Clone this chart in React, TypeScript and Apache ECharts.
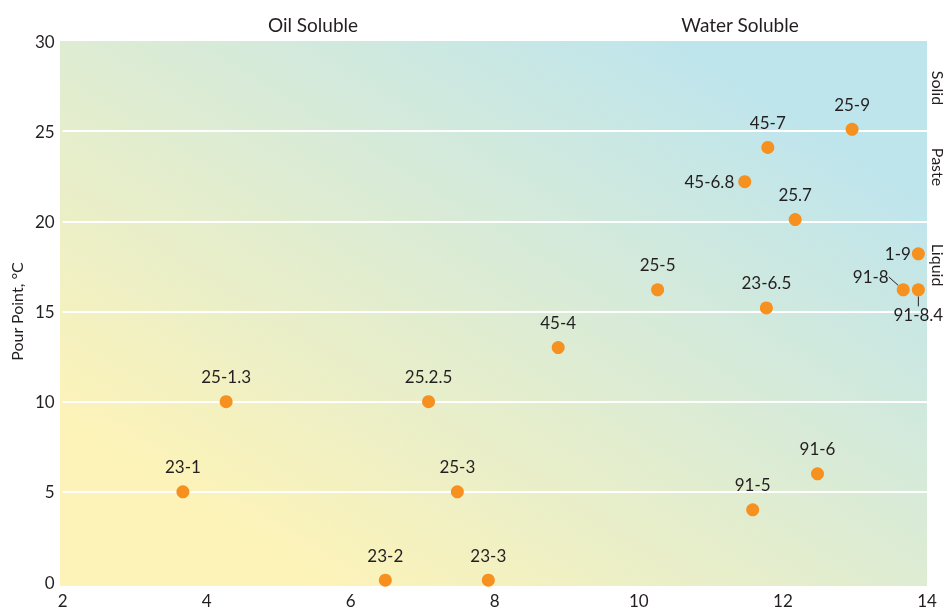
import React, { useEffect, useRef } from "react";
import * as echarts from "echarts";

const names = ["23-1", "25-1.3", "23-2", "23-3", "25.2.5", "25-3", "45-4", "25-5", "91-5", "91-6", "23-6.5", "45-6.8", "45-7", "25-9", "25.7", "1-9", "91-8", "91-8.4"];
const hlb = [3.67, 4.27, 6.48, 7.91, 7.08, 7.48, 8.88, 10.26, 11.58, 12.48, 11.77, 11.47, 11.79, 12.96, 12.17, 13.88, 13.67, 13.88];
const pourPoint = [5, 10, 0.1, 0.1, 10, 5, 13, 16.2, 4, 6, 15.2, 22.2, 24.1, 25.1, 20.1, 18.2, 16.2, 16.2];
const xTicks = [2, 4, 6, 8, 10, 12, 14];
const gridValues = [5, 10, 15, 20, 25];
const zoneLabels = ["Solid", "Paste", "Liquid"];
const topLabels = ["Oil Soluble", "Water Soluble"];

const FONT = "Lato, 'Noto Sans', sans-serif";
const TXT = "#231f20";

export default function App() {
  const ref = useRef<HTMLDivElement>(null);
  useEffect(() => {
    const chart = echarts.init(ref.current!, null, { renderer: "svg" });
    const labelCfg: Record<string, any> = {
      "45-6.8": { position: "left", distance: 4, offset: [0, -9] },
      "1-9": { position: "left", distance: 1, offset: [0, -12] },
      "91-8": { position: "left", distance: 4 },
      "91-8.4": { position: "bottom", distance: 2 },
    };
    const data = names.map((n, i) => {
      const item: any = { name: n, value: [hlb[i], pourPoint[i]] };
      if (labelCfg[n]) item.label = labelCfg[n];
      if (n === "91-8" || n === "91-8.4") item.labelLine = { show: true };
      return item;
    });
    chart.setOption({
      animation: false,
      grid: { left: 60, right: 19, top: 41, bottom: 30 },
      xAxis: {
        type: "value",
        min: xTicks[0],
        max: xTicks[xTicks.length - 1],
        interval: 2,
        axisLine: { show: false },
        axisTick: { show: false },
        splitLine: { show: false },
        axisLabel: { color: TXT, fontSize: 17, fontFamily: FONT, margin: 10 },
      },
      yAxis: {
        type: "value",
        min: 0,
        max: 30,
        interval: 5,
        name: "Pour Point, °C",
        nameLocation: "middle",
        nameGap: 34,
        nameTextStyle: { color: TXT, fontSize: 16, fontFamily: FONT },
        axisLine: { show: false },
        axisTick: { show: false },
        splitLine: { show: false },
        axisLabel: { color: TXT, fontSize: 17, fontFamily: FONT, margin: 8 },
      },
      graphic: [
        {
          type: "rect",
          z: -10,
          silent: true,
          shape: { x: 60, y: 41, width: 867, height: 545 },
          style: {
            fill: new echarts.graphic.LinearGradient(0, 1, 1, 0, [
              { offset: 0, color: "#fdf3b8" },
              { offset: 0.15, color: "#fdf3b8" },
              { offset: 0.85, color: "#bfe5ec" },
              { offset: 1, color: "#bfe5ec" },
            ]),
          },
        },
        {
          type: "text",
          x: 313,
          y: 24,
          style: { text: topLabels[0], fill: TXT, font: `19px ${FONT}`, textAlign: "center", textVerticalAlign: "middle" },
        },
        {
          type: "text",
          x: 740,
          y: 24,
          style: { text: topLabels[1], fill: TXT, font: `19px ${FONT}`, textAlign: "center", textVerticalAlign: "middle" },
        },
        ...zoneLabels.map((t, i) => ({
          type: "text",
          x: 938,
          y: [88, 167, 265][i],
          rotation: -Math.PI / 2,
          style: { text: t, fill: TXT, font: `16px ${FONT}`, textAlign: "center", textVerticalAlign: "middle" },
        })),
      ],
      series: [
        {
          type: "scatter",
          z: 3,
          symbolSize: 13,
          itemStyle: { color: "#f6901e", opacity: 1 },
          label: {
            show: true,
            position: "top",
            distance: 10,
            formatter: "{b}",
            color: TXT,
            fontSize: 17,
            fontFamily: FONT,
          },
          labelLine: { show: false, lineStyle: { color: TXT, width: 1 } },
          labelLayout: (p: any) => {
            const n = names[p.dataIndex];
            if (n === "91-8") return { dx: -4, dy: -13 };
            if (n === "91-8.4") return { dy: 8 };
            return {};
          },
          data,
          markLine: {
            z: 1,
            silent: true,
            symbol: "none",
            label: { show: false },
            lineStyle: { color: "#ffffff", width: 2, type: "solid" },
            data: gridValues.map((v) => ({ yAxis: v })),
          },
        },
      ],
    });
    return () => chart.dispose();
  }, []);
  return <div ref={ref} style={{ position: "fixed", left: 0, top: 0, width: 946, height: 612 }} />;
}
